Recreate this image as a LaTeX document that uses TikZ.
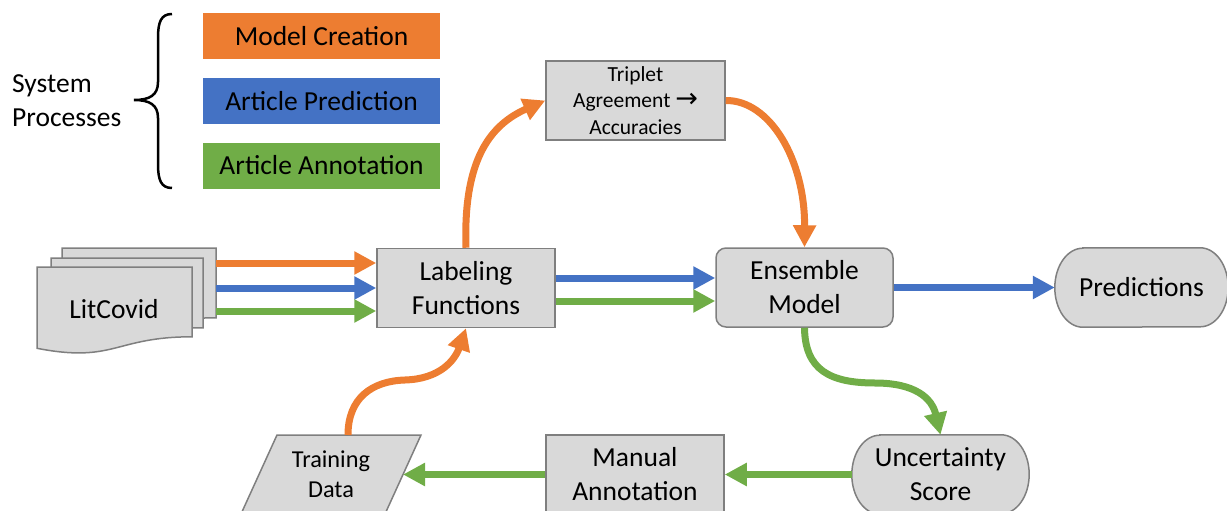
\documentclass[tikz,border=0pt]{standalone}
\usepackage{fontspec}
\setmainfont{Carlito}
\newfontfamily\symfont{DejaVu Sans}
\usetikzlibrary{arrows.meta,calc,backgrounds}
\definecolor{corange}{HTML}{ED7D31}
\definecolor{cblue}{HTML}{4472C4}
\definecolor{cgreen}{HTML}{70AD47}
\definecolor{boxfill}{HTML}{D9D9D9}
\definecolor{boxline}{HTML}{7F7F7F}
\begin{document}
\begin{tikzpicture}[x=1pt,y=-1pt,
  bigtext/.style={font=\fontsize{27.5}{34}\selectfont},
  procbox/.style={draw=boxline,fill=boxfill,line width=1.5pt,bigtext,align=center,inner sep=0pt,minimum width=178pt,minimum height=79pt},
  plainlbl/.style={bigtext,align=center,inner sep=0pt},
  shapeline/.style={draw=boxline,fill=boxfill,line width=1.5pt},
  legendbox/.style={bigtext,inner sep=0pt,minimum width=237pt,minimum height=46pt,text=black},
  flow/.style={line width=7pt,-{Triangle[length=22pt,width=22pt]}},
]
\useasboundingbox (0,0) rectangle (1227,511);

% legend
\node[legendbox,fill=corange] (lmc) at (321.5,36) {Model Creation};
\node[legendbox,fill=cblue] (lap) at (321.5,101) {Article Prediction};
\node[legendbox,fill=cgreen] (laa) at (321.5,165.5) {Article Annotation};
\node[bigtext,align=left,anchor=west,inner sep=0pt] (sys) at (12,101) {System\\Processes};
\draw[line width=2.5pt] (172,14) .. controls (161,14) and (158,22) .. (158,38) -- (158,82)
  .. controls (158,95) and (150,100) .. (134,100)
  .. controls (150,100) and (158,105) .. (158,118) -- (158,164)
  .. controls (158,180) and (161,188) .. (172,188);

% LitCovid document stack
\draw[shapeline] (62,248) -- (216,248) -- (216,317.8) .. controls (139,317.8) and (139,344.4) .. (62,329.3) -- cycle;
\draw[shapeline] (51,258) -- (203,258) -- (203,327.8) .. controls (127,327.8) and (127,354.4) .. (51,339.3) -- cycle;
\draw[shapeline] (37,267) -- (192,267) -- (192,336.8) .. controls (114.5,336.8) and (114.5,363.4) .. (37,348.3) -- cycle;
\node[plainlbl] (lit) at (114,309) {LitCovid};

% training data parallelogram
\draw[shapeline] (277,435) -- (421,435) -- (385,514) -- (241,514) -- cycle;
\node[plainlbl,font=\fontsize{24.3}{30}\selectfont,minimum width=144pt,minimum height=79pt] (td) at (331,474.5) {Training\\Data};

% process nodes
\node[procbox] (lf) at (466,288) {Labeling\\Functions};
\node[procbox,minimum width=179pt,font=\fontsize{21.5}{26.5}\selectfont] (tr) at (635.5,100.5) {Triplet\\Agreement {\symfont\fontsize{27}{26.5}\selectfont →}\\Accuracies};
\node[procbox,rounded corners=10pt,minimum width=177pt] (en) at (804.5,287.5) {Ensemble\\Model};
\node[plainlbl,minimum width=173pt,minimum height=79pt] (pr) at (1141.5,287.5) {Predictions};
\node[plainlbl,minimum width=177pt,minimum height=79pt] (us) at (940.5,474.5) {Uncertainty\\Score};
\node[procbox] (ma) at (635,474.5) {Manual\\Annotation};

\begin{scope}[on background layer]
\foreach \n in {pr,us} {
  \draw[shapeline] ($(\n.north west)+(28,0)$) -- ($(\n.north east)+(-28,0)$)
    arc[start angle=-90,end angle=90,x radius=28,y radius=39.5]
    -- ($(\n.south west)+(28,0)$)
    arc[start angle=90,end angle=270,x radius=28,y radius=39.5] -- cycle;
}
\end{scope}

% coordinates
\coordinate (lo) at (216,263);
\coordinate (lb) at (216,288);
\coordinate (lg) at (216,311);
\coordinate (yb) at (0,278);
\coordinate (yg) at (0,301);
\coordinate (tdr) at (403,474.5);
\coordinate (tdt) at (348,435);

% connectors
\draw[flow,corange] (lo) -- (lf.west |- lo);
\draw[flow,cblue] (lb) -- (lf.west |- lb);
\draw[flow,cgreen] (lg) -- (lf.west |- lg);
\draw[flow,cblue] (lf.east |- yb) -- (en.west |- yb);
\draw[flow,cgreen] (lf.east |- yg) -- (en.west |- yg);
\draw[flow,cblue] (en.east) -- (pr.west);
\draw[flow,corange] (lf.north) .. controls (463,160) and (490,125) .. (tr.west);
\draw[flow,corange] (tr.east) .. controls (770,100) and (805,160) .. (en.north);
\draw[flow,cgreen] (en.south) .. controls (805,370) and (830,383) .. (875,383)
  .. controls (915,383) and (932,398) .. (us.north);
\draw[flow,cgreen] (us.west) -- (ma.east);
\draw[flow,cgreen] (ma.west) -- (tdr);
\draw[flow,corange] (tdt) .. controls (348,398) and (372,381) .. (405,380)
  .. controls (440,379) and (455,360) .. (lf.south);
\end{tikzpicture}
\end{document}
